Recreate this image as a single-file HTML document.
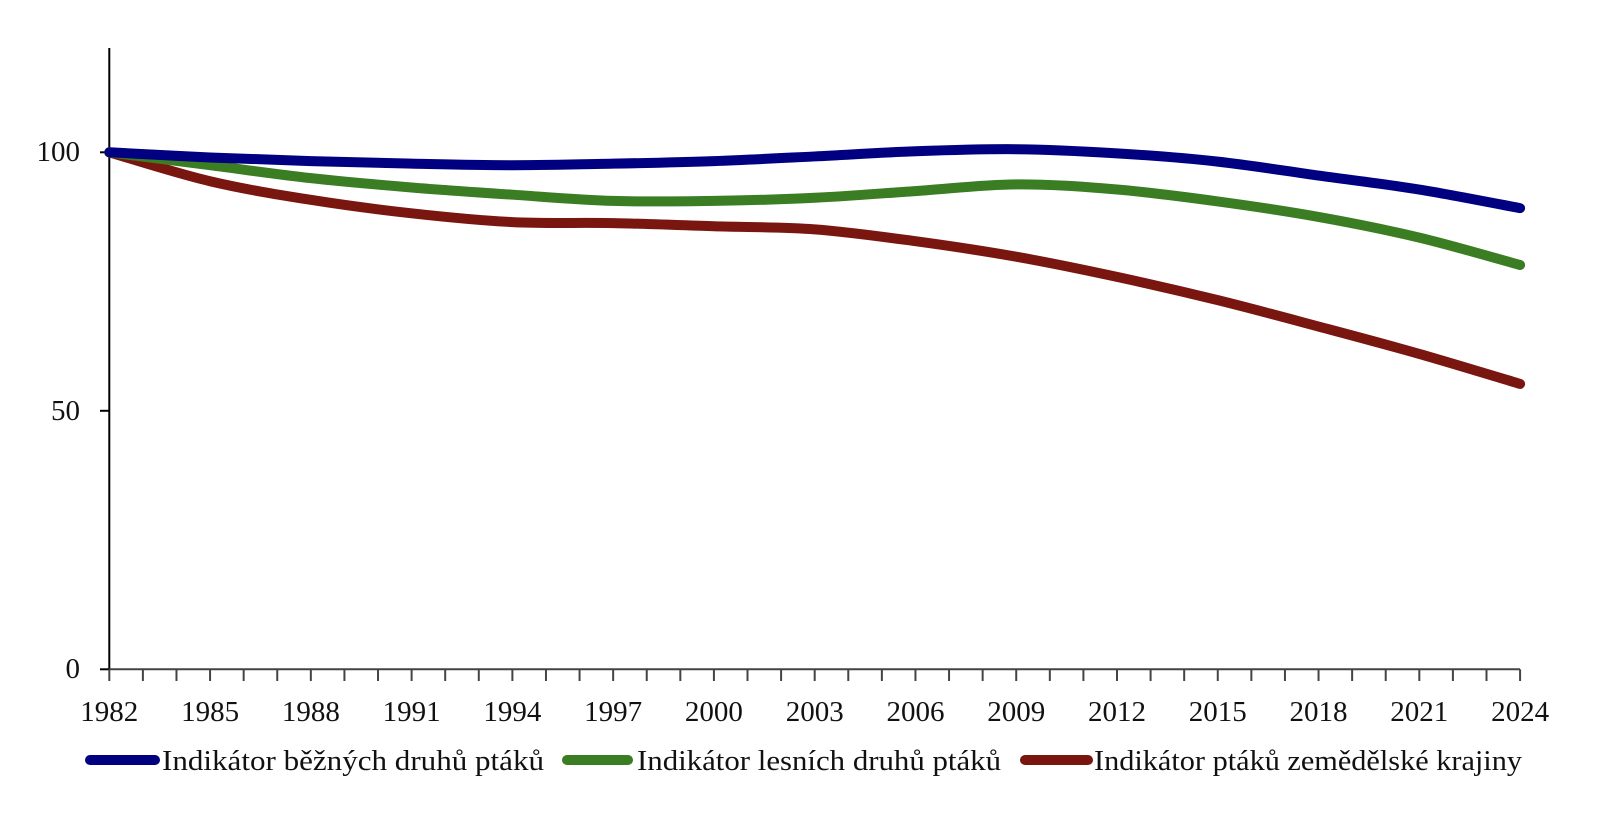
<!DOCTYPE html>
<html><head><meta charset="utf-8"><style>
html,body{margin:0;padding:0;background:#fff;}
svg text{font-family:"Liberation Serif",serif;fill:#111;}
</style></head><body>
<svg id="s" width="1608" height="830" xmlns="http://www.w3.org/2000/svg">
<g id="axes" stroke="#000" stroke-width="2" fill="none">
<line x1="109.3" y1="48" x2="109.3" y2="669.3"/>
<line x1="109.3" y1="669.3" x2="1520" y2="669.3" stroke="#444"/>
<line x1="100" y1="152.3" x2="109.3" y2="152.3"/>
<line x1="100" y1="410.8" x2="109.3" y2="410.8"/>
<line x1="100" y1="669.3" x2="109.3" y2="669.3"/>
</g>
<g font-size="29">
<text x="80" y="161" text-anchor="end">100</text>
<text x="80" y="420" text-anchor="end">50</text>
<text x="80" y="678" text-anchor="end">0</text>
</g>
<g id="xt" font-size="29" text-anchor="middle"></g>
<g id="ser" fill="none" stroke-width="10" stroke-linecap="round"></g>
<g stroke-width="10" stroke-linecap="round">
<line x1="90" y1="760" x2="155" y2="760" stroke="#000080"/>
<line x1="567" y1="760" x2="628" y2="760" stroke="#3a7d22"/>
<line x1="1025" y1="760" x2="1088" y2="760" stroke="#7a1610"/>
</g>
<g font-size="28">
<text x="162" y="770" textLength="382" lengthAdjust="spacingAndGlyphs">Indikátor běžných druhů ptáků</text>
<text x="637" y="770" textLength="364" lengthAdjust="spacingAndGlyphs">Indikátor lesních druhů ptáků</text>
<text x="1094" y="770" textLength="428" lengthAdjust="spacingAndGlyphs">Indikátor ptáků zemědělské krajiny</text>
</g>
</svg>
<script>
var ns="http://www.w3.org/2000/svg";
function X(y){return 109.3+(y-1982)*33.59;}
function Y(v){return 669.3-v*5.17;}
var ax=document.getElementById('axes'),xt=document.getElementById('xt');
for(var y=1982;y<=2024;y++){var l=document.createElementNS(ns,'line');l.setAttribute('x1',X(y));l.setAttribute('x2',X(y));l.setAttribute('y1',669.3);l.setAttribute('y2',681);l.setAttribute('stroke','#444');ax.appendChild(l);
if((y-1982)%3==0){var t=document.createElementNS(ns,'text');t.setAttribute('x',X(y));t.setAttribute('y',721);t.textContent=y;xt.appendChild(t);}}
var yrs=[1982,1985,1988,1991,1994,1997,2000,2003,2006,2009,2012,2015,2018,2021,2024];
var S=[
["#7a1610",[100,94.4,90.8,88.2,86.5,86.3,85.7,85.1,82.8,79.8,75.9,71.4,66.3,61,55.2]],
["#3a7d22",[100,97.5,95,93.2,91.8,90.6,90.6,91.2,92.5,93.8,92.8,90.5,87.5,83.5,78.2]],
["#000080",[100,99,98.3,97.8,97.5,97.8,98.3,99.2,100.2,100.6,99.8,98.2,95.5,92.8,89.2]]];
var g=document.getElementById('ser');
S.forEach(function(s){var p=yrs.map(function(y,i){return [X(y),Y(s[1][i])];});
var d="M"+p[0][0]+","+p[0][1];
for(var i=0;i<p.length-1;i++){var p0=p[i-1]||p[i],p1=p[i],p2=p[i+1],p3=p[i+2]||p2;
d+=" C"+(p1[0]+(p2[0]-p0[0])/6)+","+(p1[1]+(p2[1]-p0[1])/6)+" "+(p2[0]-(p3[0]-p1[0])/6)+","+(p2[1]-(p3[1]-p1[1])/6)+" "+p2[0]+","+p2[1];}
var e=document.createElementNS(ns,'path');e.setAttribute('d',d);e.setAttribute('stroke',s[0]);g.appendChild(e);});
</script>
</body></html>
